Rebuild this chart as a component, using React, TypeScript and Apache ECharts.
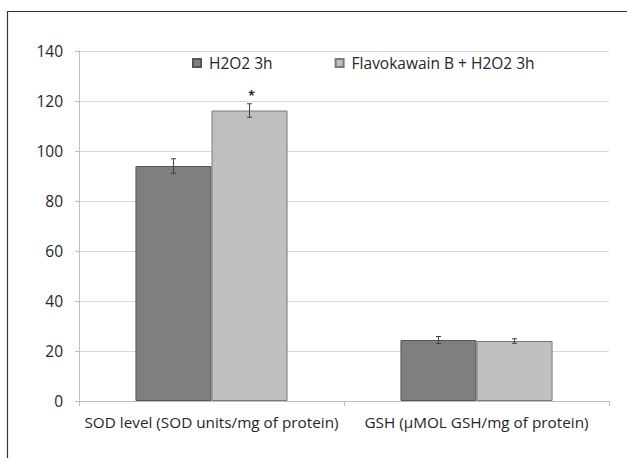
import React, { useEffect, useRef } from "react";
import * as echarts from "echarts";

const categories = [
  "SOD level (SOD units/mg of protein)",
  "GSH (µMOL GSH/mg of protein)",
];
const seriesNames = ["H2O2 3h", "Flavokawain B + H2O2 3h"];
const h2o2Values = [94, 24.4];
const h2o2Errors = [2.9, 1.4];
const fkbValues = [116.2, 24];
const fkbErrors = [2.7, 0.9];
const fkbMarks = ["*", ""];
const yTicks = { min: 0, max: 140, interval: 20 };

const FONT = "'Open Sans', sans-serif";
const TEXT = "#262626";
const GAP = 0.426;

export default function App() {
  const ref = useRef<HTMLDivElement>(null);
  useEffect(() => {
    if (!ref.current) return;
    const chart = echarts.init(ref.current, null, { renderer: "svg" });

    const errData = (vals: number[], errs: number[], marks: string[] | null) =>
      vals.map((v, i) => [i, v, errs[i], marks ? marks[i] : ""]);

    const makeErr = (seriesIdx: number) => (params: any, api: any) => {
      const ci = api.value(0);
      const v = api.value(1);
      const e = api.value(2);
      const mark = api.value(3);
      const band = api.size([1, 0])[0];
      const barW = (band * (1 - GAP)) / 2;
      const c = api.coord([ci, v]);
      const x = c[0] + (seriesIdx === 0 ? -barW / 2 : barW / 2);
      const top = api.coord([ci, v + e])[1];
      const bot = api.coord([ci, v - e])[1];
      const style = { stroke: "#404040", lineWidth: 1 };
      const children: any[] = [
        { type: "line", shape: { x1: x, y1: top, x2: x, y2: bot }, style },
        { type: "line", shape: { x1: x - 2.5, y1: top, x2: x + 2.5, y2: top }, style },
        { type: "line", shape: { x1: x - 2.5, y1: bot, x2: x + 2.5, y2: bot }, style },
      ];
      if (mark) {
        children.push({
          type: "text",
          style: {
            text: mark,
            x: x + 2,
            y: top - 8,
            align: "center",
            verticalAlign: "middle",
            font: `bold 12px ${FONT}`,
            fill: TEXT,
          },
        });
      }
      return { type: "group", children };
    };

    chart.setOption({
      animation: false,
      textStyle: { fontFamily: FONT },
      graphic: [
        {
          type: "rect",
          shape: { x: 7.5, y: 11.5, width: 700, height: 500 },
          style: { fill: "none", stroke: "#333", lineWidth: 1.2 },
          silent: true,
        },
      ],
      legend: {
        left: 192,
        top: 55,
        padding: 0,
        itemWidth: 8,
        itemHeight: 8,
        itemGap: 62,
        icon: "rect",
        data: seriesNames,
        textStyle: {
          fontFamily: FONT,
          fontSize: 15.5,
          color: TEXT,
          padding: [0, 0, 0, 3],
        },
      },
      grid: { left: 79, right: 18, top: 51, height: 350, containLabel: false },
      xAxis: {
        type: "category",
        data: categories,
        axisLine: { lineStyle: { color: "#bfbfbf" } },
        axisTick: { show: true, length: 5, lineStyle: { color: "#bfbfbf" } },
        axisLabel: { interval: 0, fontFamily: FONT, fontSize: 15.3, color: TEXT, margin: 13 },
      },
      yAxis: {
        type: "value",
        min: yTicks.min,
        max: yTicks.max,
        interval: yTicks.interval,
        axisLine: { show: true, lineStyle: { color: "#bfbfbf" } },
        axisTick: { show: true, length: 4, lineStyle: { color: "#bfbfbf" } },
        splitLine: { lineStyle: { color: "#d9d9d9" } },
        axisLabel: { fontFamily: FONT, fontSize: 15.5, color: TEXT, margin: 16 },
      },
      series: [
        {
          name: seriesNames[0],
          type: "bar",
          data: h2o2Values,
          barGap: 0,
          barCategoryGap: GAP * 100 + "%",
          itemStyle: { color: "#7f7f7f", borderColor: "#555", borderWidth: 1 },
        },
        {
          name: seriesNames[1],
          type: "bar",
          data: fkbValues,
          barGap: 0,
          barCategoryGap: GAP * 100 + "%",
          itemStyle: { color: "#bfbfbf", borderColor: "#7a7a7a", borderWidth: 1 },
        },
        {
          type: "custom",
          renderItem: makeErr(0),
          data: errData(h2o2Values, h2o2Errors, null),
          z: 10,
          silent: true,
        },
        {
          type: "custom",
          renderItem: makeErr(1),
          data: errData(fkbValues, fkbErrors, fkbMarks),
          z: 10,
          silent: true,
        },
      ],
    });
    return () => chart.dispose();
  }, []);
  return (
    <div
      ref={ref}
      style={{ position: "absolute", left: 0, top: 0, width: 627, height: 458, background: "#fff" }}
    />
  );
}
